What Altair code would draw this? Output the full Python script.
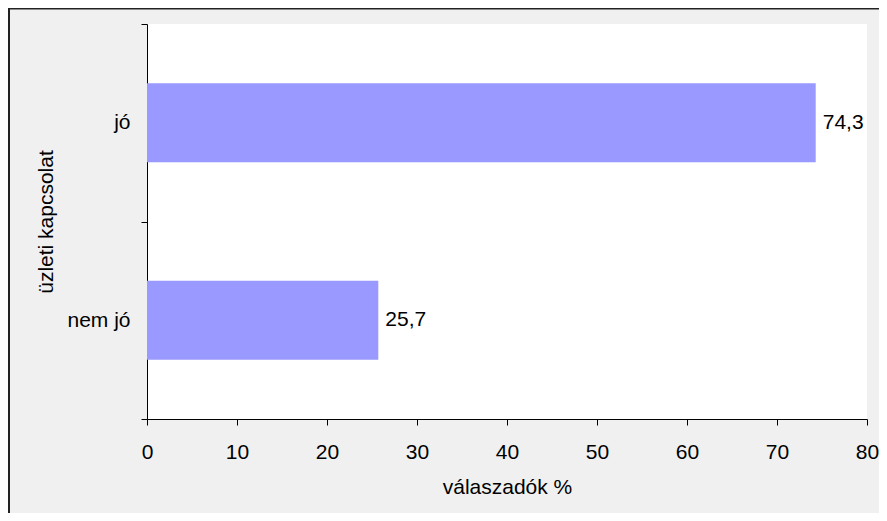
import altair as alt
import pandas as pd

categories = ["jó", "nem jó"]
values = [74.3, 25.7]
labels = [f"{v:.1f}".replace(".", ",") for v in values]
x_ticks = [0, 10, 20, 30, 40, 50, 60, 70, 80]

df = pd.DataFrame({"cat": categories, "val": values, "lab": labels})

FONT = "Liberation Sans"
FS = 21
W, H = 720, 395
PAD = {"left": 139, "top": 16, "right": 12, "bottom": 94}

y_enc = alt.Y(
    "cat:N",
    sort=categories,
    scale=alt.Scale(paddingInner=0, paddingOuter=0),
    axis=alt.Axis(
        title="üzleti kapcsolat",
        tickBand="extent",
        tickSize=6,
        labelPadding=11,
        titleAngle=270,
        titleBaseline="alphabetic",
        titleAlign="center",
        titleX=-95,
        titleY=H / 2,
    ),
)
x_enc = alt.X(
    "val:Q",
    scale=alt.Scale(domain=[0, 80], nice=False),
    axis=alt.Axis(
        title="válaszadók %",
        values=x_ticks,
        grid=False,
        labelFlush=False,
        tickSize=6,
        labelPadding=16,
        titleBaseline="alphabetic",
        titleY=74,
    ),
)

bars = alt.Chart(df).mark_bar(color="#9999FF", height={"band": 0.4}).encode(x=x_enc, y=y_enc)
text = alt.Chart(df).mark_text(
    align="left", baseline="middle", dx=7, font=FONT, fontSize=FS, color="black"
).encode(x="val:Q", y=alt.Y("cat:N", sort=categories), text="lab:N")

frame_df = pd.DataFrame({"a": [0]})
left_border = alt.Chart(frame_df).mark_rule(color="#222222", strokeWidth=2).encode(
    x=alt.value(-138), y=alt.value(-16), y2=alt.value(H + PAD["bottom"])
)
top_border = alt.Chart(frame_df).mark_rule(color="#222222", strokeWidth=2).encode(
    x=alt.value(-139), x2=alt.value(W + PAD["right"]), y=alt.value(-15.5)
)

chart = (
    alt.layer(bars, text, left_border, top_border)
    .properties(width=W, height=H, padding=PAD, autosize="none", background="#f0f0f0")
    .configure_view(fill="white", stroke=None)
    .configure_axis(
        labelFont=FONT,
        titleFont=FONT,
        labelFontSize=FS,
        titleFontSize=FS,
        labelColor="black",
        titleColor="black",
        domainColor="black",
        tickColor="black",
        titleFontWeight="normal",
    )
)

chart.save("out.html", embed_options={"renderer": "svg", "actions": False})
